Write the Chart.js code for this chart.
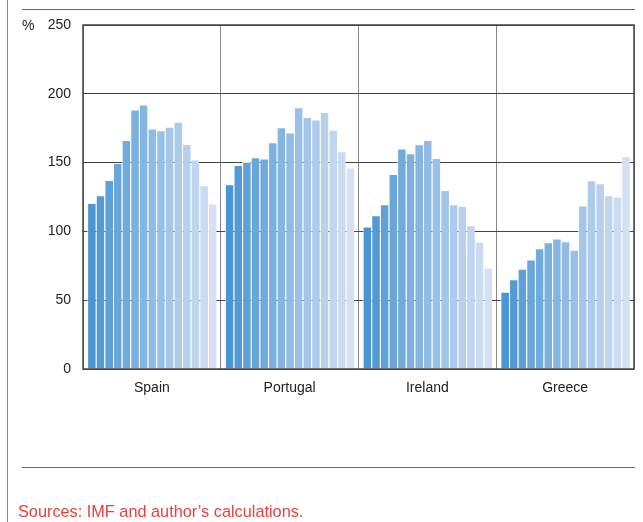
<!DOCTYPE html>
<html>
<head>
<meta charset="utf-8">
<script src="https://cdn.jsdelivr.net/npm/chart.js@4/dist/chart.umd.min.js"></script>
<style>
  body { margin: 0; background: #fff; }
  #wrap { position: relative; width: 643px; height: 522px; overflow: hidden; }
  #chart { position: absolute; left: 0; top: 0; }
  .rule { position: absolute; background: #666; }
  .txt { position: absolute; white-space: nowrap; }
</style>
</head>
<body>
<div id="wrap">
  <canvas id="chart" width="643" height="522"></canvas>
  <div class="rule" style="left:7px;top:0;width:1px;height:522px;background:#8a8a8a"></div>
  <div class="rule" style="left:22px;top:9px;width:613px;height:1px"></div>
  <div class="rule" style="left:22px;top:467px;width:613px;height:1px"></div>
  <div class="txt" style="left:22px;top:17px;font:14px 'Liberation Sans',Arial,sans-serif;line-height:16px;color:#222">%</div>
  <div class="txt" style="left:18px;top:502px;font:16.3px 'Liberation Sans',Arial,sans-serif;line-height:18px;color:#e8413c">Sources: IMF and author’s calculations.</div>
</div>
<script>
// countries on the x axis
const countries = ['Spain', 'Portugal', 'Ireland', 'Greece'];

// 15 periods per country (%)
const spain    = [120.6, 126.2, 137.4, 149.7, 166.5, 188.6, 192.3, 174.8, 173.6, 176.0, 179.6, 163.6, 152.2, 133.5, 120.2];
const portugal = [134.2, 148.3, 150.5, 153.9, 153.0, 164.8, 175.7, 171.9, 190.3, 183.2, 181.4, 186.7, 173.8, 158.3, 146.4];
const ireland  = [103.6, 111.7, 119.7, 141.7, 160.2, 156.8, 163.4, 166.5, 153.4, 130.1, 119.7, 118.7, 104.4, 92.7, 73.8];
const greece   = [56.1, 65.3, 72.8, 79.6, 87.8, 92.2, 94.9, 92.9, 86.7, 118.9, 137.1, 135.0, 126.2, 125.3, 154.8];

const yTicks = [0, 50, 100, 150, 200, 250];

// bar shades, dark blue -> pale blue
const shades = ['#4a96d4', '#549bd6', '#5ea1d9', '#68a6db', '#71abdd', '#7bb0df', '#85b6e2', '#8fbbe4',
                '#99c0e6', '#a3c6e9', '#adcbeb', '#b6d0ed', '#c0d5ef', '#cadbf2', '#d4e0f4'];

const datasets = [];
for (let i = 0; i < spain.length; i++) {
  datasets.push({
    data: [spain[i], portugal[i], ireland[i], greece[i]],
    backgroundColor: shades[i],
    // thin pale edge on the left and top, like the white gaps in the original
    borderColor: 'rgba(255,255,255,0.85)',
    borderWidth: { left: 1, right: 0, top: 1, bottom: 0 },
    borderSkipped: false,
    inflateAmount: 0,
    categoryPercentage: 0.94,
    barPercentage: 1
  });
}

const tickFont = { family: "'Liberation Sans', Arial, sans-serif", size: 14 };

// frame around the plot, drawn over the bars
const frame = {
  id: 'frame',
  afterDatasetsDraw(chart) {
    const a = chart.chartArea, ctx = chart.ctx;
    ctx.save();
    ctx.strokeStyle = '#444';
    ctx.lineWidth = 1.5;
    ctx.strokeRect(a.left, a.top, a.right - a.left, a.bottom - a.top);
    ctx.restore();
  }
};

new Chart(document.getElementById('chart'), {
  type: 'bar',
  data: { labels: countries, datasets: datasets },
  options: {
    responsive: false,
    animation: false,
    layout: { padding: { top: 25, right: 9, left: 0, bottom: 0 } },
    plugins: { legend: { display: false }, tooltip: { enabled: false } },
    scales: {
      x: {
        grid: { offset: true, color: '#888', lineWidth: 1, drawTicks: false },
        border: { display: false },
        ticks: { color: '#222', font: tickFont, padding: 11 },
        afterFit(scale) { scale.height = 153; }
      },
      y: {
        min: 0, max: 250,
        afterBuildTicks(scale) { scale.ticks = yTicks.map(v => ({ value: v })); },
        grid: { color: '#444', lineWidth: 1, drawTicks: false },
        border: { display: false },
        ticks: { color: '#222', font: tickFont, padding: 12 },
        afterFit(scale) { scale.width = 83; }
      }
    }
  },
  plugins: [frame]
});
</script>
</body>
</html>
